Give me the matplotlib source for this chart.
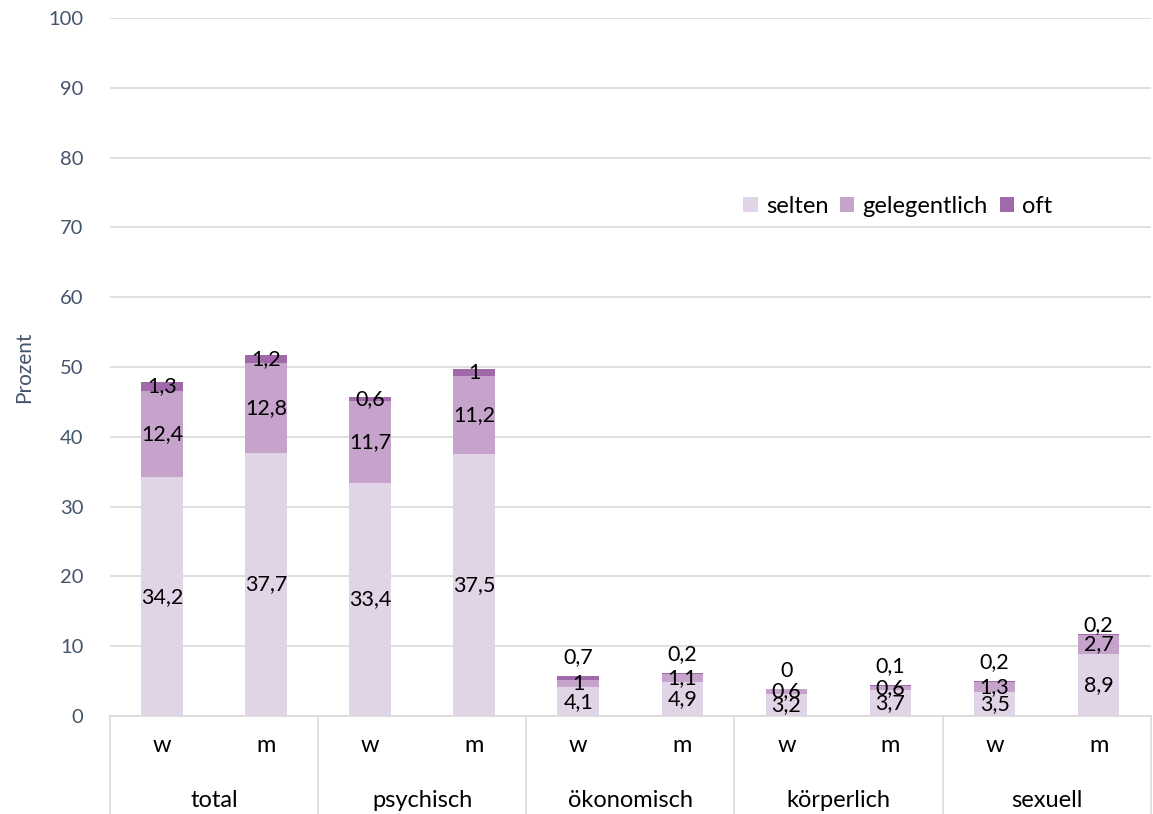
import matplotlib.pyplot as plt
import matplotlib.transforms as mtransforms
from matplotlib.lines import Line2D
import numpy as np

plt.rcParams['font.family'] = ['Lato', 'DejaVu Sans']

groups = ['total', 'psychisch', 'ökonomisch', 'körperlich', 'sexuell']
sexes = ['w', 'm']
selten = [34.2, 37.7, 33.4, 37.5, 4.1, 4.9, 3.2, 3.7, 3.5, 8.9]
gelegentlich = [12.4, 12.8, 11.7, 11.2, 1, 1.1, 0.6, 0.6, 1.3, 2.7]
oft = [1.3, 1.2, 0.6, 1, 0.7, 0.2, 0, 0.1, 0.2, 0.2]

series = [('selten', selten, '#E2D4E7'),
          ('gelegentlich', gelegentlich, '#C6A3CB'),
          ('oft', oft, '#A06AAA')]

axis_col = '#44546A'
grid_col = '#D9D9D9'


def fmt(v):
    return f'{v:g}'.replace('.', ',')


fig = plt.figure(figsize=(11.53, 8.14), dpi=100)
ax = fig.add_axes([0.0954, 0.1204, 0.9026, 0.8576])

x = np.arange(len(selten))
bottom = np.zeros(len(x))
for name, vals, col in series:
    vals = np.array(vals, dtype=float)
    ax.bar(x, vals, 0.40, bottom=bottom, color=col, label=name, zorder=2)
    for i, v in enumerate(vals):
        total = selten[i] + gelegentlich[i] + oft[i]
        if name == 'oft' and total < 15:
            # tiny top segments: put the value above the bar
            y = total + (2.7 if total < 8 else 1.2)
        else:
            y = bottom[i] + v / 2
        ax.text(x[i], y, fmt(v), ha='center', va='center', fontsize=15.5,
                color='black', zorder=3)
    bottom += vals

ax.set_xlim(-0.5, len(x) - 0.5)
ax.set_ylim(0, 100)
ax.set_yticks(range(0, 101, 10))
ax.yaxis.grid(True, color=grid_col, lw=1.2, zorder=0)
ax.tick_params(axis='y', length=0, pad=19, labelsize=14.5, labelcolor=axis_col)
ax.set_ylabel('Prozent', fontsize=15, color=axis_col, labelpad=10)

for s in ['top', 'right', 'left']:
    ax.spines[s].set_visible(False)
ax.spines['bottom'].set_color(grid_col)
ax.spines['bottom'].set_linewidth(1.2)

# two-level category axis
ax.set_xticks(x)
ax.set_xticklabels(sexes * len(groups))
ax.tick_params(axis='x', length=0, pad=14, labelsize=17)

trans = mtransforms.blended_transform_factory(ax.transData, ax.transAxes)
for k in range(len(groups) + 1):
    xs = k * 2 - 0.5
    ax.add_line(Line2D([xs, xs], [0, -0.145], transform=trans, color=grid_col,
                       lw=1.2, clip_on=False))
for k, g in enumerate(groups):
    ax.text(k * 2 + 0.5, -0.121, g, transform=trans, ha='center', va='center',
            fontsize=17)

ax.legend(loc='center', bbox_to_anchor=(0.757, 0.73), ncol=3, frameon=False,
          fontsize=17, handlelength=0.6, handleheight=0.6, handletextpad=0.35,
          columnspacing=0.5)

fig.savefig('out.png', dpi=100)
